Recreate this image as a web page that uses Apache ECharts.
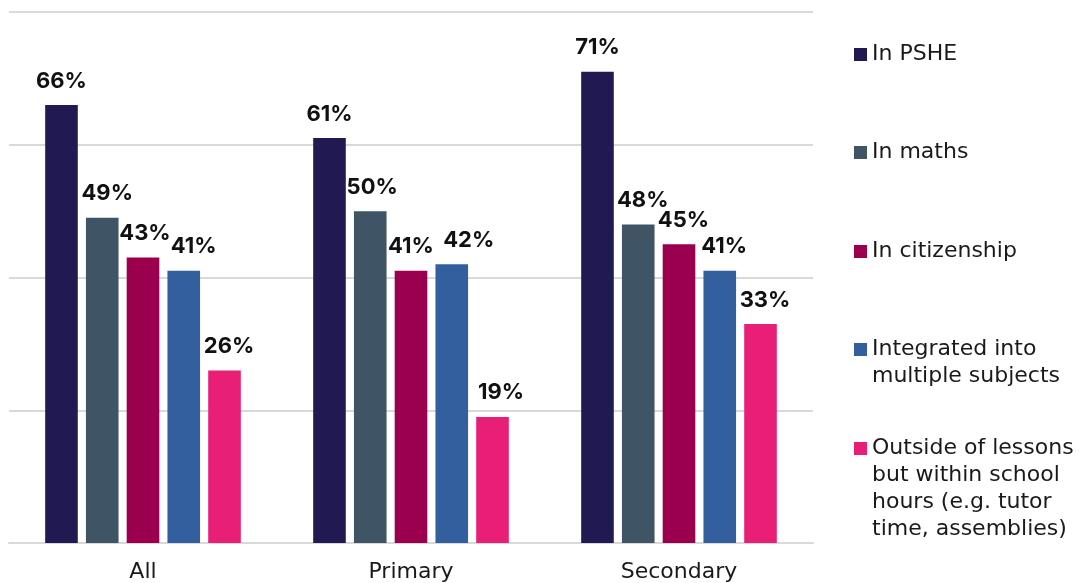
<!DOCTYPE html>
<html>
<head>
<meta charset="utf-8">
<script src="https://cdn.jsdelivr.net/npm/echarts@6/dist/echarts.min.js"></script>
<style>html,body{margin:0;padding:0;background:#fff}#c{width:1080px;height:583px}</style>
</head>
<body>
<div id="c"></div>
<script>
const categories = ['All', 'Primary', 'Secondary'];
const seriesNames = [
  'In PSHE',
  'In maths',
  'In citizenship',
  'Integrated into\nmultiple subjects',
  'Outside of lessons\nbut within school\nhours (e.g. tutor\ntime, assemblies)'
];
const inPSHE = [66, 61, 71];
const inMaths = [49, 50, 48];
const inCitizenship = [43, 41, 45];
const integrated = [41, 42, 41];
const outsideLessons = [26, 19, 33];
const yTicks = [0, 20, 40, 60, 80];

// style: horizontal nudges of the value labels (px), per series, per category
const labelNudgeX = [
  [0, 0, 0],
  [5, 2, 4.5],
  [2, 0, 4.5],
  [10, 17, 4.5],
  [4.5, 8.5, 4.5]
];

const colors = ['#211a52', '#3f5464', '#9b004f', '#335f9f', '#e91e77'];
const values = [inPSHE, inMaths, inCitizenship, integrated, outsideLessons];
const FONT = '"DejaVu Sans"';
const LABEL_FONT = 'Inter';

const chart = echarts.init(document.getElementById('c'));
const legendIconCenters = [54.5, 152.5, 251.5, 349.5, 448.5];
const LH = 27;
const legends = seriesNames.map((name, i) => {
  const n = name.split('\n').length;
  const total = 2 * n - 1;
  return {
    data: [name],
    orient: 'vertical',
    left: 854,
    top: legendIconCenters[i] - total * LH / 2,
    padding: 0,
    itemWidth: 13,
    itemHeight: 13,
    itemGap: 0,
    icon: 'rect',
    selectedMode: false,
    formatter: (nm) => '\n'.repeat(nm.split('\n').length - 1) + nm,
    textStyle: { fontFamily: FONT, fontSize: 22, color: '#1a1a1a', lineHeight: LH }
  };
});

chart.setOption({
  animation: false,
  color: colors,
  legend: legends,
  grid: { left: 9, right: 267, top: 12, bottom: 40, containLabel: false },
  xAxis: {
    type: 'category',
    data: categories,
    axisTick: { show: false },
    axisLine: { lineStyle: { color: '#d9d9d9', width: 2 } },
    axisLabel: { fontFamily: FONT, fontSize: 22, color: '#1a1a1a', margin: 18 }
  },
  yAxis: {
    type: 'value',
    min: yTicks[0],
    max: yTicks[yTicks.length - 1],
    interval: 20,
    axisLabel: { show: false },
    axisLine: { show: false },
    axisTick: { show: false },
    splitLine: { lineStyle: { color: '#d9d9d9', width: 2 } }
  },
  series: seriesNames.map((name, i) => ({
    name: name,
    type: 'bar',
    data: values[i].map((v, j) => ({ value: v, label: { offset: [labelNudgeX[i][j], 0] } })),
    barGap: '25%',
    barCategoryGap: '27%',
    itemStyle: { color: colors[i] },
    label: {
      show: true,
      position: 'top',
      distance: 13,
      formatter: '{c}%',
      fontFamily: LABEL_FONT,
      fontSize: 22,
      fontWeight: 'bold',
      color: '#111111'
    }
  }))
});
</script>
</body>
</html>
